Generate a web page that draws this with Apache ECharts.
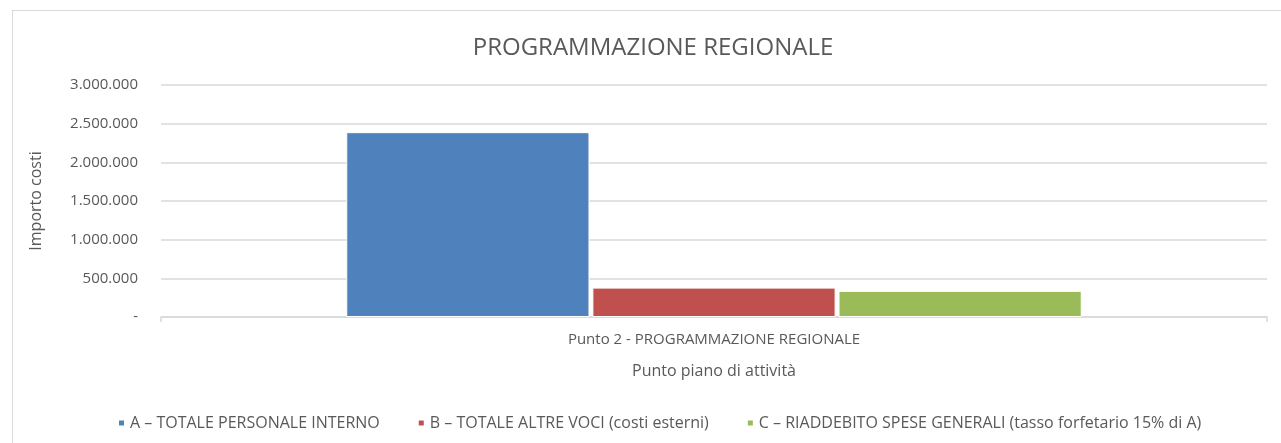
<!DOCTYPE html>
<html>
<head>
<meta charset="utf-8">
<script src="https://cdn.jsdelivr.net/npm/echarts@6/dist/echarts.min.js"></script>
<style>
  html, body { margin: 0; padding: 0; background: #fff; }
  #frame {
    position: absolute; left: 12px; top: 10px; width: 1290px; height: 450px;
    border: 1.5px solid #d9d9d9; box-sizing: border-box;
  }
  #chart { position: absolute; left: 0; top: 0; width: 1281px; height: 443px; }
</style>
</head>
<body>
<div id="frame"></div>
<div id="chart"></div>
<script>
const categories = ['Punto 2 - PROGRAMMAZIONE REGIONALE']
const seriesNames = [
  'A – TOTALE PERSONALE INTERNO',
  'B – TOTALE ALTRE VOCI (costi esterni)',
  'C – RIADDEBITO SPESE GENERALI (tasso forfetario 15% di A)',
]
const personaleInterno = [2390000]
const altreVoci = [380000]
const speseGenerali = [338000]
const colors = ['#4F81BD', '#C0504D', '#9BBB59']

const textColor = '#595959'
const fontFamily = '"Open Sans", "Liberation Sans", sans-serif'

function fmt(v) {
  if (v === 0) return '-'
  return String(v).replace(/\B(?=(\d{3})+(?!\d))/g, '.')
}

const chart = echarts.init(document.getElementById('chart'), null, { renderer: 'canvas' })

const barBase = {
  type: 'bar',
  barGap: '1.2%',
  barCategoryGap: '33.5%',
  itemStyle: { borderColor: '#fff', borderWidth: 1 },
}

chart.setOption({
  animation: false,
  textStyle: { fontFamily, color: textColor },
  color: colors,
  title: {
    text: 'PROGRAMMAZIONE REGIONALE',
    left: 648,
    textAlign: 'center',
    top: 31,
    textStyle: { fontSize: 24, fontWeight: 'normal', color: textColor, fontFamily },
  },
  grid: { left: 161, right: 14, top: 85, bottom: 126, containLabel: false },
  legend: {
    bottom: 7,
    left: 112,
    itemWidth: 7,
    itemHeight: 7,
    itemGap: 37,
    icon: 'rect',
    textStyle: { fontSize: 16, color: textColor, fontFamily },
    data: seriesNames,
  },
  xAxis: {
    type: 'category',
    data: categories,
    name: 'Punto piano di attività',
    nameLocation: 'middle',
    nameGap: 46,
    nameTextStyle: { fontSize: 16, color: textColor },
    axisLine: { lineStyle: { color: '#d9d9d9', width: 1.5 } },
    axisTick: { show: true, length: 5, lineStyle: { color: '#d9d9d9', width: 1.5 } },
    axisLabel: { fontSize: 15, color: textColor, margin: 15 },
  },
  yAxis: {
    type: 'value',
    min: 0,
    max: 3000000,
    interval: 500000,
    name: 'Importo costi',
    nameLocation: 'middle',
    nameGap: 117,
    nameTextStyle: { fontSize: 16, color: textColor },
    axisLine: { show: false },
    axisTick: { show: false },
    axisLabel: { fontSize: 15, color: textColor, margin: 23, formatter: fmt },
    splitLine: { lineStyle: { color: '#d9d9d9', width: 1.5 } },
  },
  series: [
    { ...barBase, name: seriesNames[0], data: personaleInterno },
    { ...barBase, name: seriesNames[1], data: altreVoci },
    { ...barBase, name: seriesNames[2], data: speseGenerali },
  ],
})
</script>
</body>
</html>
